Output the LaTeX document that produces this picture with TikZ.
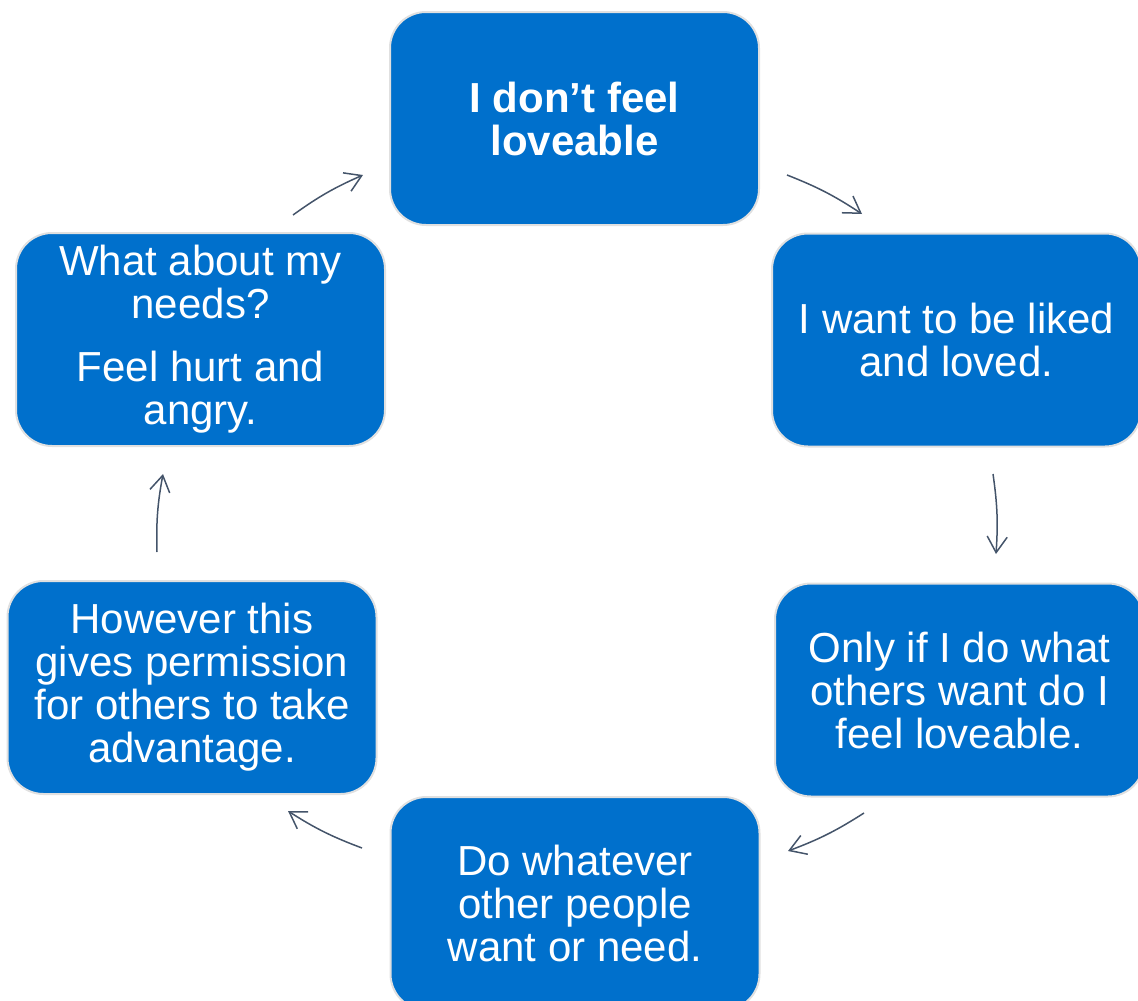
\documentclass[tikz,border=0pt]{standalone}
\usepackage{fontspec}
\setmainfont{Liberation Sans}
\usetikzlibrary{arrows.meta}
\definecolor{boxblue}{RGB}{0,112,204}
\definecolor{arrowc}{RGB}{68,84,106}
\begin{document}
\begin{tikzpicture}[x=1pt,y=-1pt,
  cyclebox/.style={draw=black!12, line width=2pt, fill=boxblue, rounded corners=36pt,
    minimum width=369pt, minimum height=213pt, text=white, align=center,
    font=\fontsize{42}{43}\selectfont, inner sep=0pt},
  cyclearrow/.style={draw=arrowc, line width=1.5pt, -{Straight Barb[length=16pt,width=20pt]}}]
\useasboundingbox (0,0) rectangle (1138,1001);
\clip (0,0) rectangle (1138,1001);

\node[cyclebox] (n1) at (574.5,118.5) {\bfseries I don’t feel\\\bfseries loveable};
\node[cyclebox] (n2) at (956.5,340) {I want to be liked\\and loved.};
\node[cyclebox] (n3) at (959.5,690) {Only if I do what\\others want do I\\feel loveable.};
\node[cyclebox] (n4) at (575,903.5) {Do whatever\\other people\\want or need.};
\node[cyclebox] (n5) at (192,687.5) {However this\\gives permission\\for others to take\\advantage.};
\node[cyclebox] (n6) at (200.5,339.5) {What about my\\needs?\\[20pt]Feel hurt and\\angry.};

\coordinate (a1s) at (293,215);  \coordinate (a1e) at (363,175);
\coordinate (a2s) at (787,175);  \coordinate (a2e) at (862,214);
\coordinate (a3s) at (993,474);  \coordinate (a3e) at (996,554);
\coordinate (a4s) at (864,813);  \coordinate (a4e) at (788,851);
\coordinate (a5s) at (362,848);  \coordinate (a5e) at (288,811);
\coordinate (a6s) at (157,552);  \coordinate (a6e) at (163,474);

\draw[cyclearrow] (a1s) to[bend left=6] (a1e);
\draw[cyclearrow] (a2s) to[bend left=6] (a2e);
\draw[cyclearrow] (a3s) to[bend left=6] (a3e);
\draw[cyclearrow] (a4s) to[bend left=6] (a4e);
\draw[cyclearrow] (a5s) to[bend left=6] (a5e);
\draw[cyclearrow] (a6s) to[bend left=6] (a6e);
\end{tikzpicture}
\end{document}
